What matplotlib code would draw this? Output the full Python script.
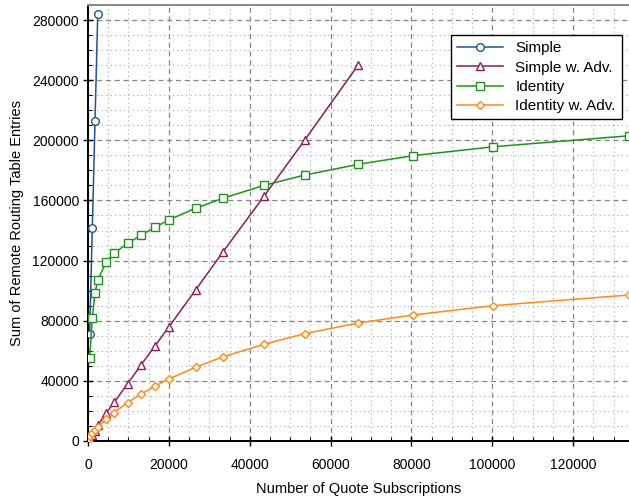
import matplotlib
matplotlib.use("Agg")
import matplotlib.pyplot as plt
from matplotlib.ticker import MultipleLocator

plt.rcParams['font.family'] = ['Liberation Sans', 'DejaVu Sans']

# Data
x_simple = [400, 1070, 1740, 2410]
y_simple = [71000, 142000, 213000, 284000]

x_common = [70, 400, 1070, 1740, 2410, 4450, 6450, 9800, 13200, 16550, 19930,
            26600, 33300, 43500, 53600, 66800, 80400, 100200, 133800]

x_simple_adv = x_common[:16]
y_simple_adv = [300, 1600, 4200, 6800, 10500, 18400, 25600, 38200, 50800, 63200,
                75600, 100400, 125500, 162700, 200200, 250000]

x_identity = x_common[1:]
y_identity = [55000, 82000, 98400, 106900, 118900, 124800, 131500, 137000, 142100,
              147000, 154800, 161400, 170000, 176900, 184000, 189800, 195700, 203000]

x_identity_adv = x_common
y_identity_adv = [1500, 3000, 5000, 7000, 9200, 14400, 18900, 25500, 31400, 36400,
                  41200, 49000, 55900, 64300, 71400, 78500, 83800, 90000, 97100]

labels = ["Simple", "Simple w. Adv.", "Identity", "Identity w. Adv."]
colors = ["#1F5593", "#8E1B57", "#22901E", "#FF8A14"]
markers = ["o", "^", "s", "D"]
msizes = [5.5, 5.5, 6.0, 4.5]

fig = plt.figure(figsize=(6.29, 5.01), dpi=100)
ax = fig.add_axes([0.1399, 0.1198, 0.8601, 0.8702])

series = [(x_simple, y_simple), (x_simple_adv, y_simple_adv),
          (x_identity, y_identity), (x_identity_adv, y_identity_adv)]
for (xs, ys), lab, c, m, ms in zip(series, labels, colors, markers, msizes):
    ax.plot(xs, ys, color=c, lw=1.1, marker=m, markersize=ms,
            markerfacecolor="white", markeredgecolor=c, markeredgewidth=1.0,
            label=lab, zorder=3)

ax.set_xlim(0, 133800)
ax.set_ylim(0, 290000)
ax.xaxis.set_major_locator(MultipleLocator(20000))
ax.xaxis.set_minor_locator(MultipleLocator(5000))
ax.yaxis.set_major_locator(MultipleLocator(40000))
ax.yaxis.set_minor_locator(MultipleLocator(10000))

ax.grid(which="major", color="#858585", linestyle=(0, (4, 3)), linewidth=0.9)
ax.grid(which="minor", color="#a8a8a8", linestyle=(0, (1, 3)), linewidth=0.8)
ax.set_axisbelow(True)

ax.tick_params(which="major", direction="inout", length=7, width=1.0,
               labelsize=10, colors="black")
ax.tick_params(axis="x", which="major", pad=9)
ax.tick_params(axis="y", which="major", pad=3)
ax.tick_params(which="minor", direction="in", length=3, width=0.8)

for s in ["left", "bottom"]:
    ax.spines[s].set_linewidth(1.4)
    ax.spines[s].set_color("black")
ax.spines["top"].set_color("#888888")
ax.spines["top"].set_linewidth(1.4)
ax.spines["right"].set_visible(False)

ax.set_xlabel("Number of Quote Subscriptions", fontsize=10.5, labelpad=7)
ax.set_ylabel("Sum of Remote Routing Table Entries", fontsize=10.5, labelpad=6)

leg = ax.legend(loc="upper right", bbox_to_anchor=(0.987, 0.931), fontsize=11,
                frameon=True, fancybox=False, edgecolor="black", framealpha=1,
                handlelength=3.0, borderpad=0.4, labelspacing=0.35,
                handletextpad=0.8, borderaxespad=0)
leg.get_frame().set_linewidth(1.0)

fig.savefig("out.png", dpi=100)
